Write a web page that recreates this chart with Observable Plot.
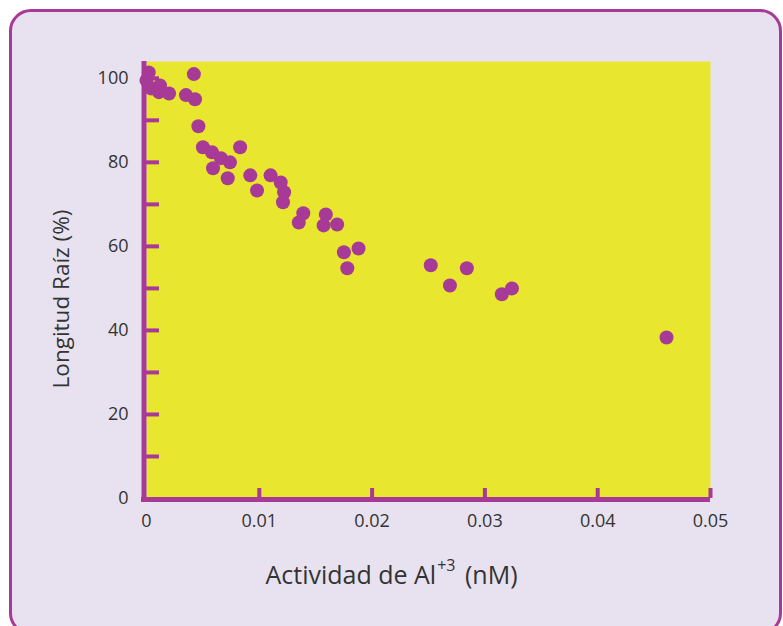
<!DOCTYPE html>
<html>
<head>
<meta charset="utf-8">
<script src="https://cdn.jsdelivr.net/npm/d3@7"></script>
<script src="https://cdn.jsdelivr.net/npm/@observablehq/plot@0.6"></script>
<style>
  html, body { margin: 0; padding: 0; background: #ffffff; }
  #wrap { position: relative; width: 783px; height: 626px; overflow: hidden; background: #ffffff; font-family: "Open Sans", "Noto Sans", sans-serif; }
  #box { position: absolute; left: 9px; top: 9px; width: 773px; height: 626px; box-sizing: border-box; border: 3px solid #a63a96; border-radius: 22px; background: #e8e2f0; }
  #chart { position: absolute; left: 0; top: 0; }
  #xtitle { position: absolute; left: 0; width: 783px; top: 557px; text-align: center; font-size: 25px; color: #333; }
  #xtitle sup { font-size: 16px; position: relative; top: -4px; margin-left: 1px; margin-right: 3px; }
  #ytitle { position: absolute; left: 60px; top: 299px; transform: translate(-50%, -50%) rotate(-90deg); white-space: nowrap; font-size: 22.5px; color: #333; }
</style>
</head>
<body>
<div id="wrap">
  <div id="box"></div>
  <div id="chart"></div>
  <div id="xtitle">Actividad de Al<sup>+3</sup> (nM)</div>
  <div id="ytitle">Longitud Raíz (%)</div>
</div>
<script>
// Al+3 activity (nM)
const actividad = [0.0000, 0.0002, 0.0004, 0.0012, 0.0011, 0.0020, 0.0042, 0.0035, 0.0043, 0.0046,
  0.0050, 0.0058, 0.0066, 0.0074, 0.0059, 0.0072, 0.0083, 0.0092, 0.0098, 0.0110,
  0.0119, 0.0122, 0.0121, 0.0139, 0.0135, 0.0159, 0.0157, 0.0169, 0.0175, 0.0188,
  0.0178, 0.0252, 0.0284, 0.0269, 0.0315, 0.0324, 0.0461];
// Root length (%)
const longitud = [99.5, 101.4, 97.6, 98.3, 96.7, 96.4, 101.0, 96.0, 95.0, 88.6,
  83.6, 82.4, 81.0, 80.0, 78.6, 76.2, 83.6, 76.9, 73.3, 76.9,
  75.2, 72.9, 70.5, 67.9, 65.7, 67.6, 65.0, 65.2, 58.6, 59.5,
  54.8, 55.5, 54.8, 50.7, 48.6, 50.0, 38.3];
const xTickValues = [0, 0.01, 0.02, 0.03, 0.04, 0.05];
const xTickLabels = ["0", "0.01", "0.02", "0.03", "0.04", "0.05"];
const yTickValues = [0, 20, 40, 60, 80, 100];
const yMinorTicks = [10, 20, 30, 40, 50, 60, 70, 80, 90, 100];

const data = actividad.map((x, i) => ({x, y: longitud[i]}));

const purple = "#a63a96";
const yellow = "#e8e62e";
const W = 783, H = 626;
const mL = 146, mR = 73, mT = 61, mB = 128;
const plotW = W - mL - mR, plotH = H - mT - mB;

const chart = Plot.plot({
  width: W,
  height: H,
  marginLeft: mL,
  marginRight: mR,
  marginTop: mT,
  marginBottom: mB,
  style: {background: "transparent", fontFamily: "'Open Sans', 'Noto Sans', sans-serif", fontSize: "18px", color: "#333"},
  x: {domain: [0, 0.05]},
  y: {domain: [0, 104]},
  marks: [
    Plot.frame({fill: yellow, stroke: null}),
    Plot.tickY(yMinorTicks, {y: d => d, stroke: purple, strokeWidth: 4, insetRight: plotW - 13}),
    Plot.tickX(xTickValues.slice(1), {x: d => d, stroke: purple, strokeWidth: 4, insetTop: plotH - 10}),
    Plot.ruleX([0], {stroke: purple, strokeWidth: 5, dx: -2.5, insetBottom: -3}),
    Plot.ruleY([0], {stroke: purple, strokeWidth: 5, dy: 1, insetLeft: -5}),
    Plot.axisY(yTickValues, {tickSize: 0, tickPadding: 18, fill: "#333", fontSize: 18, label: null}),
    Plot.axisX(xTickValues, {tickSize: 0, tickPadding: 16, fill: "#333", fontSize: 18, label: null, tickFormat: (d, i) => xTickLabels[i]}),
    Plot.dot(data, {x: "x", y: "y", r: 7, fill: purple, stroke: null})
  ]
});
document.getElementById("chart").appendChild(chart);
</script>
</body>
</html>
